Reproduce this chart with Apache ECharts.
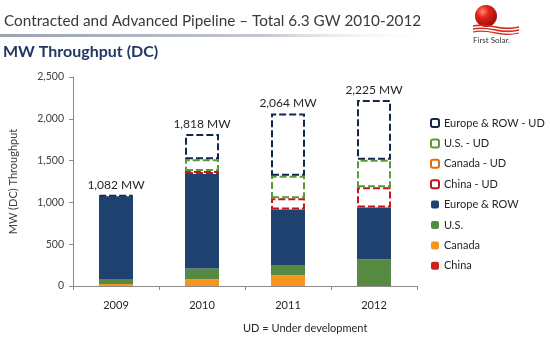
<!DOCTYPE html>
<html><head><meta charset="utf-8">
<script src="https://cdn.jsdelivr.net/npm/echarts@6/dist/echarts.min.js"></script>
<style>html,body{margin:0;padding:0;background:#fff}#c{width:550px;height:337px}</style>
</head><body><div id="c"></div>
<script>
const categories = ['2009', '2010', '2011', '2012'];
const china     = [0, 0, 0, 0];
const canada    = [25, 80, 130, 0];
const us        = [60, 130, 120, 320];
const europe    = [990, 1130, 665, 620];
const chinaUD   = [0, 35, 135, 240];
const canadaUD  = [0, 0, 0, 0];
const usUD      = [0, 140, 270, 330];
const europeUD  = [7, 303, 744, 715];
const totalLabels = ['1,082 MW', '1,818 MW', '2,064 MW', '2,225 MW'];
const yTicks = [0, 500, 1000, 1500, 2000, 2500];

const FONT = 'Lato';
const nz = a => a.map(v => v === 0 ? null : v);
const dash = [7, 3];

function solid(name, data, color) {
  return { name, type: 'bar', stack: 'all', data: nz(data), barWidth: 34,
    itemStyle: { color }, emphasis: { disabled: true } };
}
function ud(name, data, color, extra) {
  return Object.assign({ name, type: 'bar', stack: 'all', data: nz(data), barWidth: 34,
    itemStyle: { color: 'rgba(255,255,255,0)', borderColor: color, borderWidth: 2, borderType: dash },
    emphasis: { disabled: true } }, extra || {});
}

const chart = echarts.init(document.getElementById('c'), null, { renderer: 'canvas' });
chart.setOption({
  animation: false,
  textStyle: { fontFamily: FONT },
  grid: { left: 73, right: 133, top: 77, bottom: 51 },
  xAxis: {
    type: 'category', data: categories,
    axisLine: { lineStyle: { color: '#8c8c8c', width: 1 } },
    axisTick: { show: true, length: 4, lineStyle: { color: '#8c8c8c' } },
    axisLabel: { color: '#262626', fontSize: 11, margin: 14, fontFamily: FONT }
  },
  yAxis: {
    type: 'value', min: 0, max: 2500, interval: 500,
    name: 'MW (DC) Throughput', nameLocation: 'middle', nameGap: 54,
    nameTextStyle: { color: '#404040', fontSize: 11, fontFamily: FONT },
    axisLine: { show: true, lineStyle: { color: '#8c8c8c' } },
    axisTick: { show: true, length: 4, lineStyle: { color: '#8c8c8c' } },
    splitLine: { show: false },
    axisLabel: { color: '#404040', fontSize: 10.5, margin: 9, fontFamily: FONT,
      formatter: v => yTicks.includes(v) ? v.toLocaleString('en-US') : '' }
  },
  legend: {
    orient: 'vertical', left: 425, top: 112, itemWidth: 8, itemHeight: 8, itemGap: 8.4,
    textStyle: { color: '#262626', fontSize: 11, lineHeight: 12, fontFamily: FONT },
    data: ['Europe & ROW - UD', 'U.S. - UD', 'Canada - UD', 'China - UD', 'Europe & ROW', 'U.S.', 'Canada', 'China'],
    selectedMode: false
  },
  series: [
    solid('China', china, '#d0201c'),
    solid('Canada', canada, '#f7941d'),
    solid('U.S.', us, '#578a41'),
    solid('Europe & ROW', europe, '#1f4170'),
    ud('China - UD', chinaUD, '#c4161c'),
    ud('Canada - UD', canadaUD, '#e36c09'),
    ud('U.S. - UD', usUD, '#5a9a3a'),
    ud('Europe & ROW - UD', europeUD, '#14264a', {
      label: { show: true, position: 'top', distance: 4, color: '#262626', fontSize: 12, fontFamily: FONT,
        formatter: p => totalLabels[p.dataIndex] }
    })
  ],
  graphic: [
    { type: 'text', left: 4, top: 14, style: { text: 'Contracted and Advanced Pipeline \u2013 Total 6.3 GW 2010-2012',
        fill: '#3a3a3a', font: '15.3px ' + FONT } },
    { type: 'rect', shape: { x: 0, y: 34, width: 440, height: 3 },
      style: { fill: { type: 'linear', x: 0, y: 0, x2: 1, y2: 0,
        colorStops: [{ offset: 0, color: '#9aa3b0' }, { offset: 0.6, color: '#c3c8d0' }, { offset: 1, color: 'rgba(255,255,255,0)' }] } } },
    { type: 'text', left: 3, top: 44, style: { text: 'MW Throughput (DC)', fill: '#1f3864', font: 'bold 16px ' + FONT } },
    { type: 'text', left: 243, top: 323, style: { text: 'UD = Under development', fill: '#262626', font: '11px ' + FONT, textAlign: 'center' } },
    { type: 'circle', shape: { cx: 486, cy: 16, r: 11 },
      style: { fill: { type: 'radial', x: 0.35, y: 0.3, r: 0.8,
        colorStops: [{ offset: 0, color: '#ff8a70' }, { offset: 0.35, color: '#e3231b' }, { offset: 1, color: '#8e0a0a' }] } } },
    { type: 'bezierCurve', shape: { x1: 473, y1: 26, cpx1: 490, cpy1: 22, cpx2: 500, cpy2: 32, x2: 519, y2: 27 },
      style: { stroke: '#d42a20', lineWidth: 1.5, fill: null } },
    { type: 'bezierCurve', shape: { x1: 473, y1: 29, cpx1: 490, cpy1: 25, cpx2: 500, cpy2: 35, x2: 519, y2: 30 },
      style: { stroke: '#d42a20', lineWidth: 1.5, fill: null } },
    { type: 'bezierCurve', shape: { x1: 473, y1: 32, cpx1: 490, cpy1: 28, cpx2: 500, cpy2: 38, x2: 519, y2: 33 },
      style: { stroke: '#d42a20', lineWidth: 1.2, fill: null } },
    { type: 'text', left: 473, top: 36, style: { text: 'First Solar.', fill: '#333', font: '8px ' + FONT } }
  ]
});
</script></body></html>
